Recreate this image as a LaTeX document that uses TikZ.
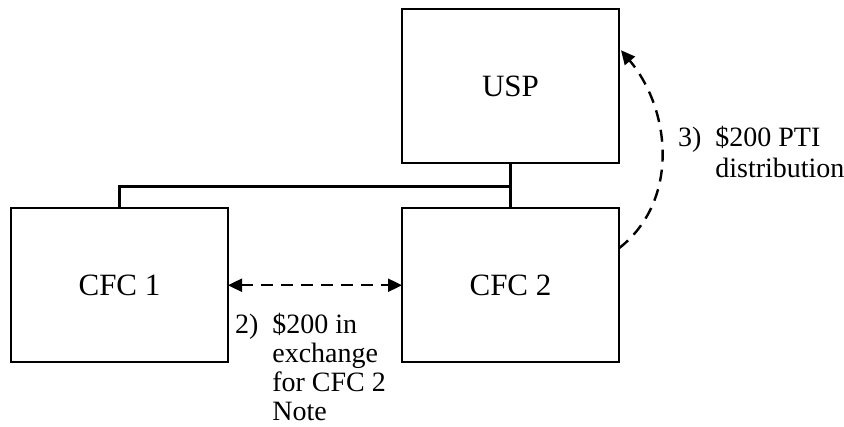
\documentclass[tikz,border=0pt]{standalone}
\usepackage{fontspec}
\setmainfont{Liberation Serif}
\usetikzlibrary{positioning,calc,arrows.meta}

\begin{document}
\begin{tikzpicture}[node distance=45pt,outer sep=0pt,line width=2.4pt,
	entity/.style={
		draw=black,
		minimum width=217pt,
		minimum height=154pt,
		inner sep=0pt,
		font={\fontsize{31}{36}\selectfont}},
	flow/.style={
		dash pattern=on 12pt off 8pt,
		-{Triangle[length=14pt,width=13pt]}},
	lbl/.style={
		inner sep=0pt,
		anchor=base west,
		font={\fontsize{28}{29}\selectfont}},
	]
	\useasboundingbox (0,0) rectangle (844pt,-427pt);
	\node[entity] (USP) at (510.5pt,-86.25pt) {USP};
	\node[entity, below=of USP] (CFC2) {CFC 2};
	\node[entity, left=174pt of CFC2] (CFC1) {CFC 1};
	
	% ownership lines
	\coordinate (J) at ($(USP.south)!0.52!(CFC2.north)$);
	\draw (USP.south) -- (CFC2.north);
	\draw (CFC1.north) |- (J);
	
	% transactions
	\draw[flow,{Triangle[length=14pt,width=13pt]}-{Triangle[length=14pt,width=13pt]}] (CFC1) -- (CFC2);
	\draw[flow] ([yshift=37pt]CFC2.east) to[out=38,in=-50] ([xshift=2pt,yshift=36pt]USP.east);
	
	\node[lbl] (T2) at ($(CFC1.east)+(7pt,-48pt)$)
		{\begin{tabular}[t]{@{}l@{\hspace{14pt}}l@{}}2) & \$200 in\\ & exchange\\ & for CFC 2\\ & Note\end{tabular}};
	\node[lbl] (T3) at ($(USP.east)+(59pt,-60pt)$)
		{\begin{tabular}[t]{@{}l@{\hspace{14pt}}l@{}}3) & \$200 PTI\\[2pt] & distribution\end{tabular}};
\end{tikzpicture}
\end{document}
